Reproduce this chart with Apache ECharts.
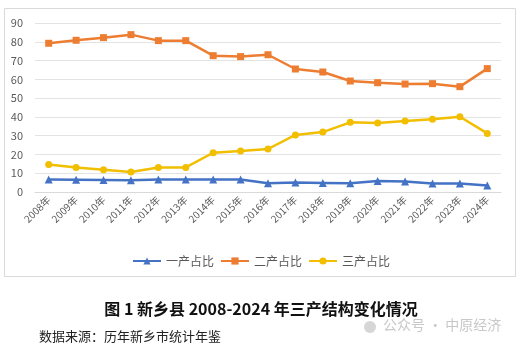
<!DOCTYPE html>
<html>
<head>
<meta charset="utf-8">
<script src="https://cdn.jsdelivr.net/npm/echarts@6/dist/echarts.min.js"></script>
<style>
  html, body { margin: 0; padding: 0; background: #fff; }
  #chart { width: 522px; height: 351px; }
</style>
</head>
<body>
<div id="chart"></div>
<script>
const years = ['2008年', '2009年', '2010年', '2011年', '2012年', '2013年', '2014年', '2015年', '2016年',
  '2017年', '2018年', '2019年', '2020年', '2021年', '2022年', '2023年', '2024年'];
const primaryShare = [6.6, 6.5, 6.4, 6.2, 6.6, 6.6, 6.6, 6.6, 4.6, 5.0, 4.8, 4.6, 5.8, 5.6, 4.5, 4.5, 3.5];
const secondaryShare = [79.2, 80.8, 82.2, 83.8, 80.6, 80.6, 72.6, 72.1, 73.1, 65.5, 63.9, 59.1, 58.2, 57.5, 57.7, 56.1, 65.7];
const tertiaryShare = [14.7, 13.1, 11.9, 10.6, 13.1, 13.1, 20.9, 21.8, 22.9, 30.4, 31.9, 37.1, 36.7, 37.8, 38.7, 40.1, 31.2];

const chart = echarts.init(document.getElementById('chart'), null, { renderer: 'canvas' });

const lineSeries = (name, data, color, symbol, size) => ({
  name,
  type: 'line',
  data,
  symbol,
  symbolSize: size,
  lineStyle: { color, width: 2.5 },
  itemStyle: { color },
  z: 3
});

chart.setOption({
  animation: false,
  backgroundColor: '#fff',
  textStyle: { fontFamily: '"Noto Sans CJK SC", "Microsoft YaHei", sans-serif' },
  graphic: [
    {
      type: 'rect',
      shape: { x: 4.5, y: 8.5, width: 511, height: 268 },
      style: { fill: 'none', stroke: '#d9d9d9', lineWidth: 1 },
      z: 0
    },
    {
      type: 'text',
      left: 'center',
      top: 301,
      style: {
        text: '图 1 新乡县 2008-2024 年三产结构变化情况',
        font: 'bold 16px "Noto Sans CJK SC", sans-serif',
        fill: '#111'
      }
    },
    {
      type: 'text',
      left: 39,
      top: 330,
      style: {
        text: '数据来源：历年新乡市统计年鉴',
        font: '13px "Noto Sans CJK SC", sans-serif',
        fill: '#222'
      }
    },
    {
      type: 'circle',
      shape: { cx: 370, cy: 327, r: 6 },
      style: { fill: '#d6d6d6' }
    },
    {
      type: 'text',
      left: 383,
      top: 318,
      style: {
        text: '公众号 · 中原经济',
        font: '14px "Noto Sans CJK SC", sans-serif',
        fill: '#c8c8c8'
      }
    }
  ],
  legend: {
    left: 'center',
    top: 250,
    itemWidth: 28,
    itemHeight: 9,
    itemGap: 6,
    textStyle: { color: '#595959', fontSize: 12 },
    data: ['一产占比', '二产占比', '三产占比']
  },
  grid: { left: 35, right: 21, top: 23, bottom: 159, containLabel: false },
  xAxis: {
    type: 'category',
    data: years,
    boundaryGap: true,
    axisLine: { lineStyle: { color: '#d9d9d9' } },
    axisTick: { show: false },
    axisLabel: { rotate: 45, color: '#595959', fontSize: 10, margin: 6, interval: 0 }
  },
  yAxis: {
    type: 'value',
    min: 0,
    max: 90,
    interval: 10,
    axisLine: { show: false },
    axisTick: { show: false },
    axisLabel: { color: '#595959', fontSize: 11, margin: 12 },
    splitLine: { lineStyle: { color: '#e3e3e3' } }
  },
  series: [
    lineSeries('一产占比', primaryShare, '#4472C4', 'triangle', 8),
    lineSeries('二产占比', secondaryShare, '#ED7D31', 'rect', 7),
    lineSeries('三产占比', tertiaryShare, '#F2BE00', 'circle', 7)
  ]
});
</script>
</body>
</html>
